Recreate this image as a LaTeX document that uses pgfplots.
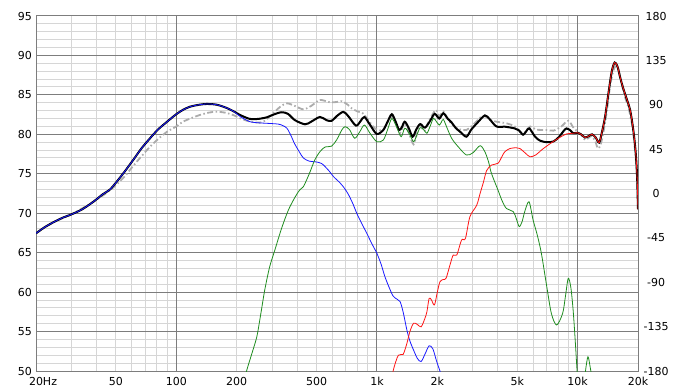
\documentclass[border=0pt]{standalone}
\usepackage{fontspec}
\setmainfont{DejaVu Sans}
\usepackage{pgfplots}
\pgfplotsset{compat=1.18}
\definecolor{gmaj}{RGB}{125,125,125}
\definecolor{gmin}{RGB}{214,214,214}
\definecolor{cgreen}{RGB}{30,140,30}
\definecolor{cblue}{RGB}{25,25,255}
\definecolor{cred}{RGB}{255,20,20}
\definecolor{cgray}{RGB}{172,172,172}
\begin{document}
\begin{tikzpicture}
\begin{axis}[
 scale only axis, width=602bp, height=355bp,
 xmode=log, xmin=20, xmax=20000, ymin=50, ymax=95,
 xtick={100,1000,10000}, xticklabels={100,1k,10k},
 extra x ticks={20,50,200,500,2000,5000,20000},
 extra x tick labels={20\rlap{Hz},50,200,500,2k,5k,20k},
 extra x tick style={grid=none},
 minor xtick={30,40,50,60,70,80,90,200,300,400,500,600,700,800,900,2000,3000,4000,5000,6000,7000,8000,9000},
 ytick={50,55,...,95}, yticklabels={50,55,60,65,70,75,80,85,90,95},
 minor ytick={51,52,...,94},
 grid=both,
 major grid style={gmaj, line width=1bp},
 minor grid style={gmin, line width=1bp},
 axis line style={gmaj, line width=1bp},
 major tick length=0pt, minor tick length=0pt,
 tick label style={font=\fontsize{11bp}{13bp}\selectfont, inner sep=0pt},
 xticklabel style={anchor=base, yshift=-14bp},
 yticklabel style={anchor=east, xshift=-4bp},
 clip=true,
]
% major decade lines on top of the minor horizontal grid
\draw[gmaj, line width=1bp] (axis cs:100,50) -- (axis cs:100,95);
\draw[gmaj, line width=1bp] (axis cs:1000,50) -- (axis cs:1000,95);
\draw[gmaj, line width=1bp] (axis cs:10000,50) -- (axis cs:10000,95);
% gray dash-dot
\addplot[cgray, line width=1.8bp, dash pattern=on 6bp off 2.5bp on 1.5bp off 2.5bp, smooth] coordinates {
(20,67.45)(24.4,68.85)(30,69.85)(38.6,71.45)(46.7,72.9)(55,74.6)(61,76.0)(67,77.2)(74,78.43)(82,79.5)(90,80.33)(100,81.0)(108,81.6)(120,82.1)(131,82.45)(145,82.75)(159,82.87)(175,82.75)(192,82.45)(210,82.0)(224,81.73)(250,81.5)(272,81.6)(304,82.67)(330,83.5)(356,83.93)(390,83.6)(430,83.17)(470,83.6)(520,84.35)(582,84.06)(630,84.1)(668,84.2)(720,83.7)(748,83.3)(800,82.9)(850,82.67)(900,81.9)(958,80.97)(1000,80.6)(1070,80.55)(1130,81.5)(1186,82.24)(1250,81.2)(1304,80.2)(1376,81.4)(1450,80.0)(1522,78.73)(1580,80.0)(1642,81.2)(1720,80.4)(1800,81.5)(1960,83.08)(2044,82.3)(2142,82.9)(2250,82.0)(2356,81.3)(2540,80.7)(2792,80.55)(3012,81.2)(3300,82.2)(3450,82.3)(3700,81.8)(3940,81.6)(4420,81.4)(4860,81.0)(5350,80.13)(5800,81.0)(6200,80.6)(7020,80.55)(7590,80.47)(8300,81.0)(8980,81.73)(9500,80.9)(10000,80.33)(10400,80.0)(10900,79.3)(11400,79.6)(11800,79.8)(12300,79.0)(12600,78.23)(13000,78.6)(13500,80.5)(14000,83.0)(14600,86.5)(15300,88.5)(15900,88.4)(16500,86.6)(17200,84.8)(18000,83.2)(18800,80.8)(19400,77.5)(19800,74.5)(20000,71)
};
% black sum
\addplot[black, line width=2bp, smooth] coordinates {
(20,67.45)(22,68.2)(24.4,68.85)(27,69.4)(30,69.85)(34,70.5)(38.6,71.45)(43,72.4)(46.7,73.0)(50.5,74.0)(55,75.2)(61,76.75)(67,78.2)(74,79.5)(81,80.6)(90,81.6)(100,82.55)(108,83.1)(117,83.5)(130,83.75)(142,83.85)(155,83.8)(165,83.65)(178,83.35)(192,82.95)(210,82.4)(233,81.95)(255,81.95)(282,82.15)(305,82.5)(334,82.8)(360,82.6)(390,81.8)(438,81.27)(470,81.6)(520,82.2)(560,81.8)(594,81.7)(630,82.3)(680,82.85)(720,82.3)(786,81.1)(830,81.7)(866,82.2)(924,81.2)(998,80.05)(1076,80.55)(1130,81.6)(1186,82.55)(1240,81.6)(1290,80.55)(1330,80.9)(1376,81.6)(1440,80.8)(1506,79.7)(1570,80.6)(1642,81.3)(1735,80.85)(1840,81.7)(1940,82.6)(2044,82.0)(2142,82.67)(2250,82.0)(2356,81.5)(2470,80.8)(2597,80.33)(2792,79.7)(2950,80.6)(3150,81.4)(3450,82.4)(3650,81.9)(3940,81.0)(4340,80.97)(4860,80.75)(5100,80.5)(5350,79.95)(5550,80.4)(5750,80.75)(6140,79.7)(6500,79.2)(7020,79.0)(7590,79.1)(8100,79.7)(8500,80.4)(8800,80.75)(9200,80.5)(9500,80.15)(10000,80.2)(10400,80.0)(10900,79.6)(11400,79.8)(11800,80.0)(12300,79.6)(12800,78.95)(13200,80.2)(13700,82.2)(14300,85.5)(14800,88.0)(15300,89.1)(15800,88.6)(16300,87.2)(16800,86.0)(17500,84.6)(18300,83.0)(19000,80.3)(19500,77.5)(19800,74.5)(20000,70.5)
};
% blue woofer
\addplot[cblue, line width=0.8bp, smooth] coordinates {
(20,67.45)(22,68.2)(24.4,68.85)(27,69.4)(30,69.85)(34,70.5)(38.6,71.45)(43,72.4)(46.7,73.0)(50.5,74.0)(55,75.2)(61,76.75)(67,78.2)(74,79.5)(81,80.6)(90,81.6)(100,82.55)(108,83.1)(117,83.5)(130,83.75)(142,83.85)(155,83.8)(165,83.65)(178,83.35)(192,82.95)(210,82.2)(233,81.6)(260,81.45)(282,81.4)(322,81.3)(340,81.1)(356,80.77)(372,79.9)(388,78.86)(410,77.8)(430,77.0)(460,76.6)(499,76.5)(530,76.3)(552,75.9)(580,75.3)(608,74.63)(652,73.9)(680,73.36)(720,72.4)(762,71.1)(793,70.0)(840,68.7)(890,67.45)(945,66.1)(1000,64.9)(1050,63.5)(1096,61.95)(1150,60.6)(1204,59.5)(1260,59.1)(1304,58.8)(1350,57.5)(1410,55.2)(1460,53.8)(1522,52.66)(1590,51.6)(1660,51.2)(1740,52.2)(1820,53.2)(1900,52.8)(1980,51.3)(2060,50.0)(2150,48.5)
};
% green midrange
\addplot[cgreen, line width=0.8bp, smooth] coordinates {
(215,48)(224,50)(238,52.2)(252,54.35)(264,57.3)(276,60.27)(292,63.2)(310,65.34)(335,68.1)(362,70.4)(390,72.0)(412,72.94)(430,73.36)(460,75.0)(490,76.75)(520,77.8)(552,78.4)(594,78.5)(630,79.3)(668,80.55)(694,80.97)(730,80.6)(775,79.5)(820,80.3)(866,81.18)(920,80.2)(998,79.07)(1076,79.28)(1130,80.6)(1186,82.0)(1250,81.0)(1320,79.7)(1376,80.77)(1450,80.1)(1522,79.07)(1580,79.9)(1642,80.85)(1710,80.6)(1774,80.13)(1840,81.0)(1912,82.03)(1980,81.6)(2044,81.18)(2090,81.5)(2142,81.9)(2220,81.0)(2356,79.5)(2540,78.43)(2792,77.38)(3012,77.67)(3266,78.56)(3450,77.8)(3600,76.5)(3720,75.06)(4010,72.94)(4200,71.6)(4420,70.6)(4780,70.2)(4950,69.3)(5120,68.3)(5300,69.0)(5420,70.0)(5720,71.46)(6000,69.14)(6300,67.2)(6600,64.9)(7020,60.7)(7400,57.3)(7860,55.83)(8420,57.3)(8700,59.5)(8980,61.75)(9250,60.6)(9500,57.7)(9750,53.5)(9940,50)(10150,47)(10700,47)(10950,50)(11260,51.8)(11550,50.5)(11800,49)(12000,47)
};
% red tweeter
\addplot[cred, line width=0.8bp, smooth] coordinates {
(1150,47)(1204,50)(1278,52.0)(1350,52.1)(1410,53.5)(1460,55.0)(1522,56.05)(1590,55.9)(1660,55.6)(1730,56.6)(1774,57.5)(1820,59.2)(1870,59.0)(1934,58.37)(2000,60.0)(2060,61.3)(2140,61.6)(2210,61.75)(2312,63.44)(2400,64.7)(2500,64.7)(2640,66.6)(2760,66.8)(2906,69.56)(3140,71.0)(3266,72.5)(3400,74.0)(3520,75.4)(3720,76.1)(4010,76.33)(4200,77.2)(4340,77.8)(4600,78.2)(4940,78.3)(5160,78.2)(5500,77.6)(5800,77.15)(6200,77.4)(6600,78.0)(7250,78.77)(8020,79.5)(8800,80.05)(9500,80.13)(10000,80.2)(10400,80.0)(10900,79.6)(11400,79.8)(11800,80.0)(12300,79.6)(12800,78.95)(13200,80.2)(13700,82.2)(14300,85.5)(14800,88.0)(15300,89.1)(15800,88.6)(16300,87.2)(16800,86.0)(17500,84.6)(18300,83.0)(19000,80.3)(19500,77.5)(19800,74.5)(20000,70.5)
};
\node[anchor=base west, font=\fontsize{11bp}{13bp}\selectfont, inner sep=0pt] at ([xshift=2bp,yshift=4bp]rel axis cs:0,1) {dB};
\node[anchor=base, font=\fontsize{11bp}{13bp}\selectfont, inner sep=0pt] at ([yshift=4bp]rel axis cs:0.5,1) {SPL};
\node[anchor=base east, font=\fontsize{11bp}{13bp}\selectfont, inner sep=0pt] at ([xshift=-3bp,yshift=4bp]rel axis cs:1,1) {deg};
\end{axis}
\begin{axis}[
 scale only axis, width=602bp, height=355bp,
 xmode=log, xmin=20, xmax=20000, ymin=-180, ymax=180,
 axis x line=none, axis y line*=right,
 axis line style={gmaj, line width=1bp},
 ytick={-180,-135,-90,-45,0,45,90,135,180},
 yticklabels={-180,-135,-90,-45,0,45,90,135,180},
 major tick length=0pt,
 tick label style={font=\fontsize{11bp}{13bp}\selectfont, inner sep=0pt},
 yticklabel style={anchor=center, xshift=18bp},
]
\end{axis}
\pgfresetboundingbox
\path[use as bounding box] ([shift={(-36bp,-16bp)}]current axis.south west) rectangle ([shift={(38bp,16bp)}]current axis.north east);
\end{tikzpicture}
\end{document}
